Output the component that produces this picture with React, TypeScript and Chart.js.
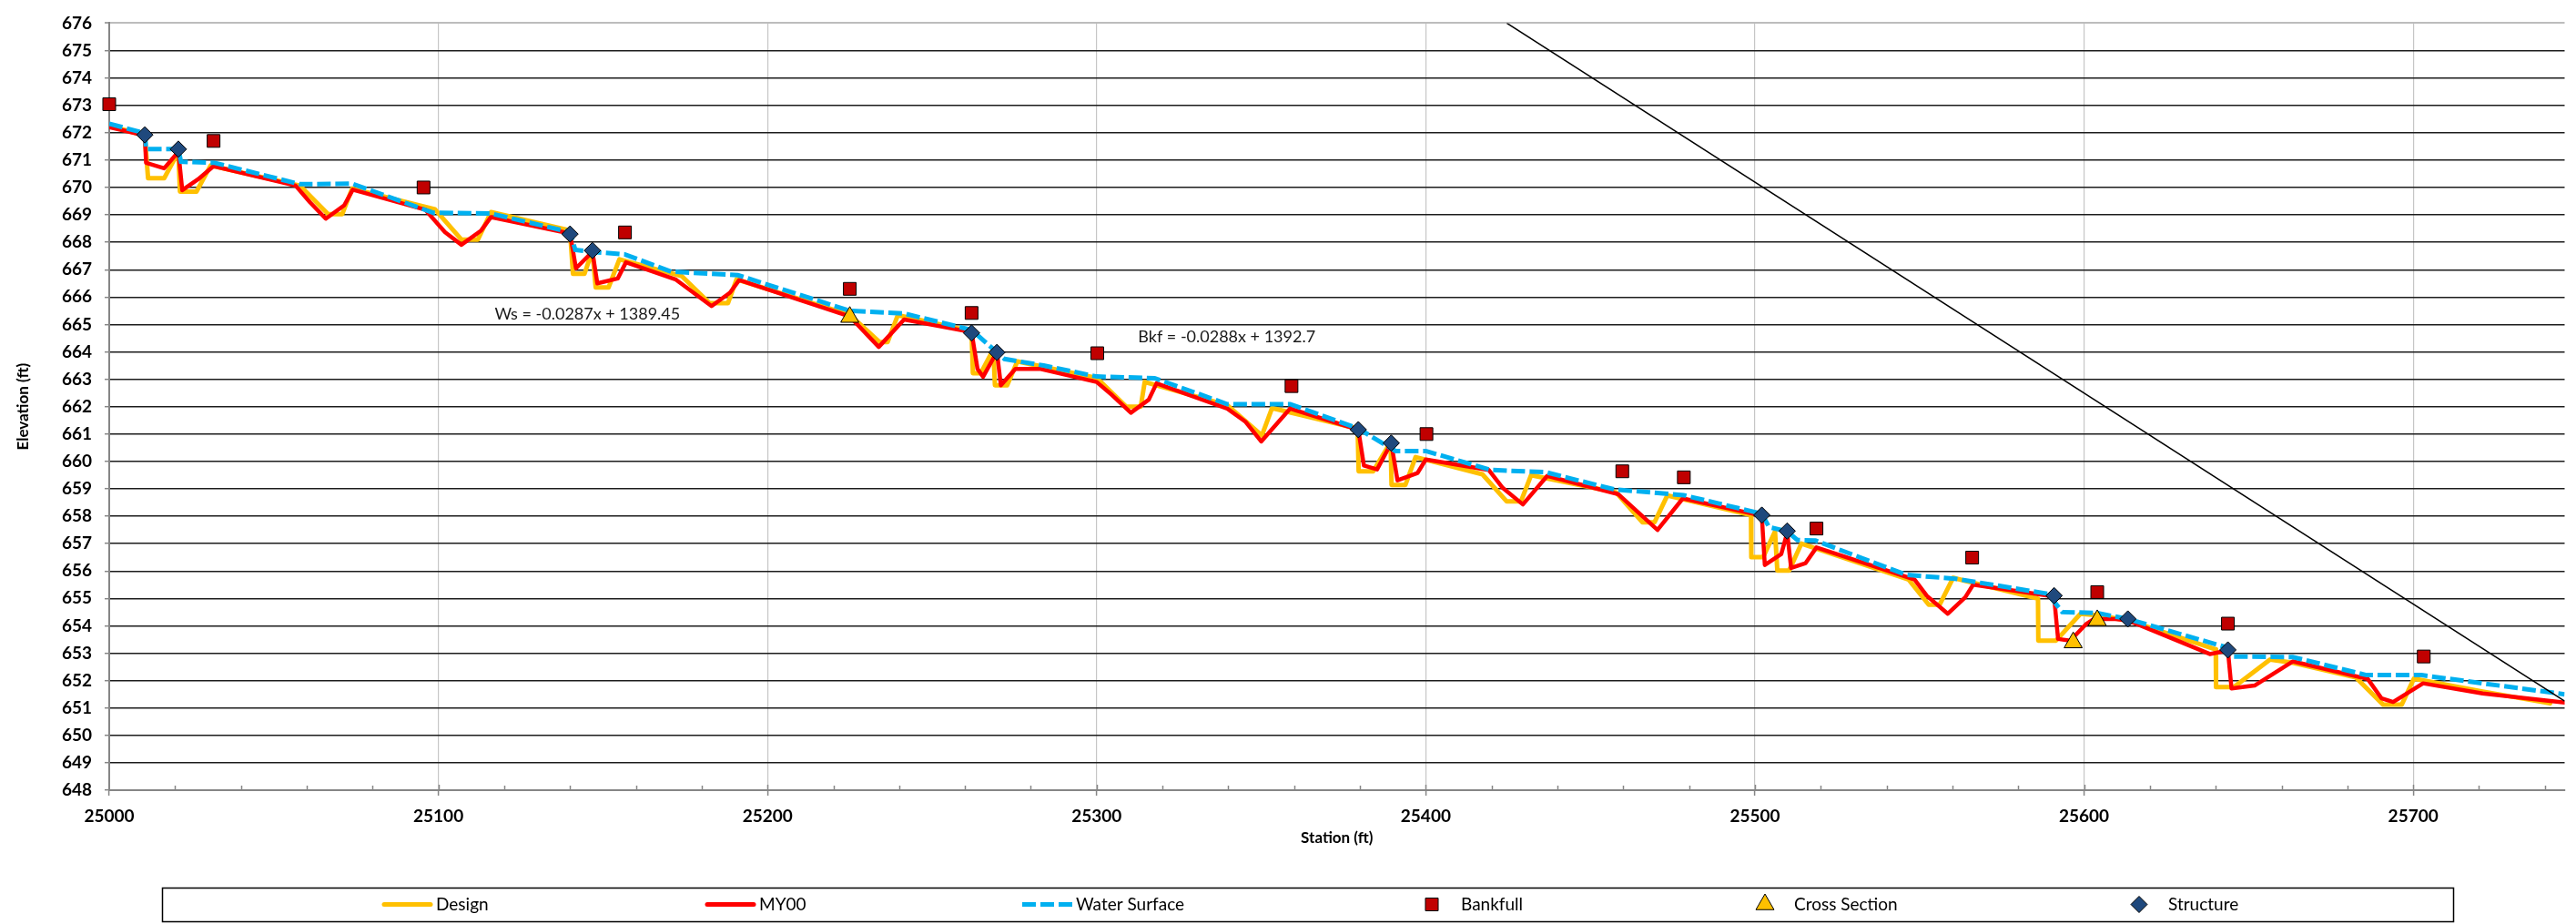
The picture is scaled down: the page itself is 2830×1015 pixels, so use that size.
import React, { useEffect, useRef } from 'react';
import { Chart, registerables } from 'chart.js';

Chart.register(...registerables);

// ---------------- data ----------------
const designStation = [25000, 25010.8, 25011.8, 25016.7, 25021, 25021.5, 25026.5, 25030.8, 25057.9, 25066.5, 25070.8, 25073.8, 25099, 25107, 25112, 25116, 25140, 25140.9, 25144.4, 25146.8, 25147.8, 25151.7, 25155, 25174, 25182.4, 25188, 25190.6, 25225, 25234, 25236.5, 25239.6, 25262, 25262.4, 25264.8, 25268.6, 25269.1, 25272.8, 25275.9, 25300, 25309, 25313.4, 25314.6, 25339.7, 25350.2, 25353.3, 25379.3, 25379.6, 25384, 25389.3, 25389.6, 25393.8, 25396.9, 25417.2, 25424.6, 25428.9, 25432, 25457.8, 25465.8, 25469.5, 25473.4, 25498.8, 25498.9, 25502.5, 25506.1, 25506.8, 25510.4, 25514.1, 25546.7, 25552.8, 25556.1, 25560.2, 25586, 25586.1, 25591.5, 25598.9, 25603.8, 25613.3, 25640, 25640.1, 25645.5, 25656.5, 25663.4, 25682.5, 25690.9, 25696.5, 25700.2, 25721.1, 25741.6];
const designElev = [672.25, 671.9, 670.34, 670.34, 671.3, 669.85, 669.85, 670.8, 670.07, 669.03, 669.03, 669.96, 669.2, 668.1, 668.1, 669.1, 668.43, 666.85, 666.85, 667.7, 666.35, 666.35, 667.38, 666.76, 665.78, 665.78, 666.65, 665.35, 664.36, 664.36, 665.34, 664.75, 663.22, 663.22, 664.09, 662.78, 662.78, 663.65, 663.05, 662.0, 662.0, 662.9, 662.05, 660.95, 661.95, 661.2, 659.64, 659.64, 660.7, 659.14, 659.14, 660.16, 659.53, 658.54, 658.54, 659.5, 658.87, 657.78, 657.78, 658.76, 658.04, 656.51, 656.51, 657.44, 656.02, 656.02, 657.0, 655.69, 654.77, 654.77, 655.75, 654.99, 653.46, 653.46, 654.44, 654.39, 654.2, 653.14, 651.76, 651.76, 652.77, 652.65, 652.12, 651.12, 651.12, 652.07, 651.6, 651.17];

const my00Station = [25000, 25010.8, 25011.2, 25016.7, 25021, 25022.2, 25027, 25031.7, 25056.6, 25061, 25065.8, 25071.4, 25074, 25096, 25102, 25107, 25113, 25116, 25140, 25141.8, 25146.8, 25148.3, 25154.5, 25157, 25172, 25183, 25188.6, 25191.4, 25225, 25233.8, 25241.5, 25262, 25263.8, 25265.5, 25269.7, 25270.9, 25275.3, 25282.7, 25300, 25304.7, 25310.4, 25315.8, 25318.2, 25339.7, 25345.3, 25350, 25358.8, 25379.5, 25381.2, 25385.2, 25389.5, 25391.4, 25397.5, 25400, 25419.1, 25423.4, 25429.5, 25436.9, 25458.4, 25470.4, 25478.1, 25499.4, 25502.1, 25503, 25508, 25509.8, 25511, 25515.4, 25518.7, 25548.5, 25552.2, 25558.6, 25563.9, 25566.3, 25589, 25590.9, 25592.1, 25595.8, 25600.5, 25603, 25609.5, 25613.3, 25638.2, 25643.7, 25644.8, 25651.8, 25663.4, 25686.2, 25690.4, 25693.9, 25703, 25721.1, 25746];
const my00Elev = [672.2, 671.9, 670.9, 670.7, 671.3, 669.9, 670.3, 670.78, 670.07, 669.46, 668.86, 669.35, 669.92, 669.19, 668.37, 667.91, 668.43, 668.92, 668.32, 667.05, 667.65, 666.5, 666.68, 667.27, 666.65, 665.67, 666.16, 666.62, 665.29, 664.18, 665.18, 664.72, 663.38, 663.09, 664.0, 662.78, 663.38, 663.38, 662.9, 662.42, 661.78, 662.25, 662.85, 661.93, 661.44, 660.73, 661.93, 661.16, 659.85, 659.71, 660.67, 659.31, 659.58, 660.07, 659.69, 659.03, 658.43, 659.47, 658.81, 657.5, 658.65, 658.09, 658.0, 656.22, 656.62, 657.4, 656.11, 656.29, 656.86, 655.69, 655.1, 654.44, 655.04, 655.5, 655.1, 655.05, 653.52, 653.46, 654.05, 654.25, 654.25, 654.2, 652.97, 653.1, 651.71, 651.82, 652.7, 652.06, 651.35, 651.22, 651.9, 651.53, 651.2];

const waterStation = [25000, 25010.8, 25011.2, 25021, 25021.8, 25032, 25057.9, 25073.8, 25098.4, 25116, 25140, 25141.6, 25146.8, 25156.6, 25170.7, 25191, 25225, 25241.5, 25262, 25272, 25283.9, 25300, 25317.6, 25339.7, 25358.8, 25379.5, 25390.8, 25400, 25419.7, 25436.3, 25457.2, 25478.3, 25502.1, 25504.3, 25509.8, 25512.9, 25518.4, 25546, 25560.8, 25589, 25593.4, 25603.8, 25613.3, 25642.5, 25645, 25663.4, 25685.8, 25702.5, 25721.1, 25746];
const waterElev = [672.33, 671.98, 671.4, 671.4, 670.94, 670.9, 670.12, 670.14, 669.08, 669.05, 668.37, 667.72, 667.65, 667.56, 666.93, 666.8, 665.5, 665.4, 664.8, 663.74, 663.5, 663.1, 663.04, 662.09, 662.09, 661.2, 660.38, 660.38, 659.69, 659.61, 658.98, 658.77, 658.09, 657.6, 657.45, 657.13, 657.11, 655.86, 655.72, 655.17, 654.5, 654.47, 654.25, 653.24, 652.88, 652.86, 652.2, 652.2, 651.9, 651.5];

const bankfullStation = [25000, 25031.7, 25095.5, 25156.7, 25225, 25262, 25300.2, 25359.2, 25400.2, 25459.7, 25478.4, 25518.7, 25566, 25604, 25643.7, 25703.2];
const bankfullElev = [673.04, 671.7, 670.0, 668.36, 666.3, 665.42, 663.95, 662.75, 661.0, 659.64, 659.42, 657.55, 656.49, 655.23, 654.08, 652.88];

const crossStation = [25225, 25596.7, 25604];
const crossElev = [665.27, 653.39, 654.2];

const structureStation = [25010.8, 25021, 25140, 25146.8, 25262, 25269.7, 25379.5, 25389.5, 25502.1, 25509.8, 25590.9, 25613.3, 25643.7];
const structureElev = [671.92, 671.4, 668.3, 667.7, 664.69, 663.98, 661.16, 660.67, 658.04, 657.46, 655.1, 654.25, 653.12];

const refLineStation = [25424.6, 25746];
const refLineElev = [676, 651.25];

const trendLabels = [
  { text: 'Ws = -0.0287x + 1389.45', station: 25117.1, elev: 665.37 },
  { text: 'Bkf = -0.0288x + 1392.7', station: 25312.6, elev: 664.55 },
];

const xMin = 25000;
const xMax = 25746;
const xStep = 100;
const yMin = 648;
const yMax = 676;

const toXY = (xs: number[], ys: number[]) => xs.map((x, i) => ({ x, y: ys[i] }));

// ---------------- plugins ----------------
function drawMarker(ctx: CanvasRenderingContext2D, style: string, x: number, y: number, r: number) {
  ctx.beginPath();
  if (style === 'rect') {
    const h = Math.SQRT1_2 * r;
    ctx.rect(x - h, y - h, 2 * h, 2 * h);
  } else if (style === 'triangle') {
    ctx.moveTo(x, y - r);
    ctx.lineTo(x + Math.sin((2 * Math.PI) / 3) * r, y + r / 2);
    ctx.lineTo(x - Math.sin((2 * Math.PI) / 3) * r, y + r / 2);
    ctx.closePath();
  } else {
    ctx.moveTo(x - r, y);
    ctx.lineTo(x, y - r);
    ctx.lineTo(x + r, y);
    ctx.lineTo(x, y + r);
    ctx.closePath();
  }
  ctx.fill();
  ctx.stroke();
}

const boxLegend = {
  id: 'boxLegend',
  afterDraw(chart: any) {
    const ctx: CanvasRenderingContext2D = chart.ctx;
    ctx.save();
    ctx.strokeStyle = '#000';
    ctx.lineWidth = 1.5;
    ctx.strokeRect(178.5, 975.5, 2517, 37);
    const starts = [420, 775, 1123, 1546, 1912, 2323];
    const cy = 993.5;
    let k = 0;
    chart.data.datasets.forEach((ds: any) => {
      if (!ds.label) return;
      const x0 = starts[k++];
      if (ds.showLine === false) {
        ctx.fillStyle = ds.backgroundColor;
        ctx.strokeStyle = ds.borderColor;
        ctx.lineWidth = 1;
        ctx.setLineDash([]);
        drawMarker(ctx, ds.pointStyle, x0 + 27, cy, ds.pointRadius);
      } else {
        ctx.strokeStyle = ds.borderColor;
        ctx.lineWidth = 5;
        if (ds.borderDash && ds.borderDash.length) {
          ctx.lineCap = 'butt';
          ctx.setLineDash(ds.borderDash);
          ctx.beginPath();
          ctx.moveTo(x0, cy);
          ctx.lineTo(x0 + 55, cy);
          ctx.stroke();
        } else {
          ctx.lineCap = 'round';
          ctx.setLineDash([]);
          ctx.beginPath();
          ctx.moveTo(x0 + 2, cy);
          ctx.lineTo(x0 + 53, cy);
          ctx.stroke();
        }
      }
      ctx.setLineDash([]);
      ctx.fillStyle = '#000';
      ctx.font = '19px Lato';
      ctx.textAlign = 'left';
      ctx.textBaseline = 'middle';
      ctx.fillText(ds.label, x0 + 59, cy);
    });
    ctx.restore();
  },
};

const extras = {
  id: 'extras',
  beforeDatasetsDraw(chart: any) {
    const ctx: CanvasRenderingContext2D = chart.ctx;
    const xs = chart.scales.x;
    const bottom = chart.chartArea.bottom;
    ctx.save();
    ctx.strokeStyle = '#868686';
    ctx.lineWidth = 1.5;
    for (let v = xMin + 20; v < xMax; v += 20) {
      const px = Math.round(xs.getPixelForValue(v)) + 0.5;
      const len = v % xStep === 0 ? 6 : 5;
      ctx.beginPath();
      ctx.moveTo(px, bottom);
      ctx.lineTo(px, bottom - len);
      ctx.stroke();
    }
    ctx.restore();
  },
  afterDatasetsDraw(chart: any) {
    const ctx: CanvasRenderingContext2D = chart.ctx;
    const xs = chart.scales.x;
    const ys = chart.scales.y;
    ctx.save();
    ctx.fillStyle = '#1a1a1a';
    ctx.font = '18px Lato';
    ctx.textAlign = 'left';
    ctx.textBaseline = 'middle';
    trendLabels.forEach((t) => {
      ctx.fillText(t.text, xs.getPixelForValue(t.station), ys.getPixelForValue(t.elev));
    });
    ctx.restore();
  },
};

export default function App() {
  const ref = useRef<HTMLCanvasElement>(null);

  useEffect(() => {
    if (!ref.current) return;
    const chart = new Chart(ref.current, {
      type: 'line',
      data: {
        datasets: [
          {
            label: 'Design',
            data: toXY(designStation, designElev),
            borderColor: '#FFC000',
            backgroundColor: '#FFC000',
            borderWidth: 5,
            pointRadius: 0,
            borderJoinStyle: 'round',
            borderCapStyle: 'round',
            order: 6,
          },
          {
            label: 'MY00',
            data: toXY(my00Station, my00Elev),
            borderColor: '#FF0000',
            backgroundColor: '#FF0000',
            borderWidth: 4.5,
            pointRadius: 0,
            borderJoinStyle: 'round',
            borderCapStyle: 'round',
            order: 5,
          },
          {
            label: 'Water Surface',
            data: toXY(waterStation, waterElev),
            borderColor: '#00B0F0',
            backgroundColor: '#00B0F0',
            borderWidth: 5,
            borderDash: [15, 5],
            pointRadius: 0,
            order: 4,
          },
          {
            label: 'Bankfull',
            data: toXY(bankfullStation, bankfullElev),
            showLine: false,
            clip: false,
            pointStyle: 'rect',
            pointRadius: 9.9,
            backgroundColor: '#C00000',
            borderColor: '#000000',
            pointBorderWidth: 1,
            order: 2,
          },
          {
            label: 'Cross Section',
            data: toXY(crossStation, crossElev),
            showLine: false,
            clip: false,
            pointStyle: 'triangle',
            pointRadius: 11.5,
            backgroundColor: '#FFC000',
            borderColor: '#000000',
            pointBorderWidth: 1,
            order: 1,
          },
          {
            label: 'Structure',
            data: toXY(structureStation, structureElev),
            showLine: false,
            clip: false,
            pointStyle: 'rectRot',
            pointRadius: 9,
            backgroundColor: '#1F497D',
            borderColor: '#000000',
            pointBorderWidth: 1,
            order: 0,
          },
          {
            label: '',
            data: toXY(refLineStation, refLineElev),
            borderColor: '#000000',
            borderWidth: 1.6,
            pointRadius: 0,
            order: 3,
          },
        ],
      } as any,
      options: {
        animation: false,
        responsive: false,
        devicePixelRatio: 1,
        layout: { padding: { top: 14, left: 0, right: 0, bottom: 0 } },
        plugins: {
          legend: { display: false },
          tooltip: { enabled: false },
        },
        scales: {
          x: {
            type: 'linear',
            min: xMin,
            max: xMax,
            afterFit: (s: any) => {
              s.height = 147;
            },
            ticks: {
              stepSize: xStep,
              includeBounds: false,
              autoSkip: false,
              maxRotation: 0,
              padding: 11,
              color: '#000',
              font: { family: 'Lato', size: 19, weight: 'bold' },
              callback: (v: any) => (Number(v) % xStep === 0 ? String(v) : ''),
            },
            grid: {
              color: '#c6c6c6',
              lineWidth: 1.2,
              drawTicks: true,
              tickLength: 6,
              tickColor: '#868686',
              tickWidth: 1.5,
            },
            border: { color: '#868686', width: 2 },
            title: {
              display: true,
              text: 'Station (ft)',
              color: '#000',
              font: { family: 'Lato', size: 17, weight: 'bold' },
              padding: { top: 0, bottom: 84 },
            },
          },
          y: {
            type: 'linear',
            min: yMin,
            max: yMax,
            afterFit: (s: any) => {
              s.width = 120;
            },
            ticks: {
              stepSize: 1,
              autoSkip: false,
              padding: 14,
              color: '#000',
              font: { family: 'Lato', size: 19, weight: 'bold' },
            },
            grid: {
              color: (c: any) => (c.tick && c.tick.value === yMax ? '#bdbdbd' : '#1c1c1c'),
              lineWidth: (c: any) => (c.tick && c.tick.value === yMax ? 2 : 1.4),
              drawTicks: true,
              tickLength: 5,
              tickColor: '#868686',
              tickWidth: 1.5,
            },
            border: { color: '#868686', width: 2 },
            title: {
              display: true,
              text: 'Elevation (ft)',
              color: '#000',
              font: { family: 'Lato', size: 17, weight: 'bold' },
              padding: { top: 15, bottom: 0 },
            },
          },
        },
      } as any,
      plugins: [extras, boxLegend],
    });
    return () => chart.destroy();
  }, []);

  return (
    <div style={{ position: 'absolute', left: 0, top: 0, width: 2830, height: 1015, background: '#fff' }}>
      <canvas ref={ref} width={2830} height={1015} style={{ display: 'block', width: 2830, height: 1015 }} />
    </div>
  );
}
